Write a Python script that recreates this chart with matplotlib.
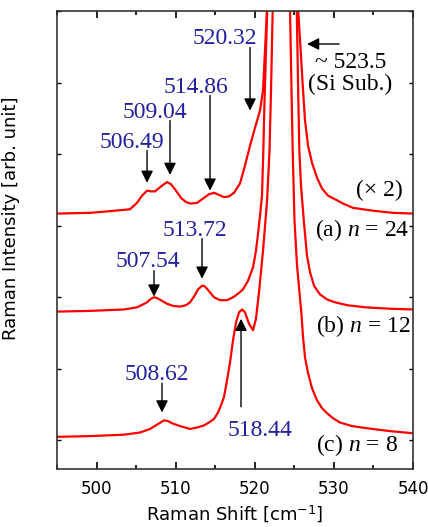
import matplotlib
matplotlib.use("Agg")
import matplotlib.pyplot as plt
from matplotlib.ticker import MultipleLocator, NullFormatter

plt.rcParams['mathtext.fontset'] = 'custom'
plt.rcParams['mathtext.rm'] = 'Liberation Serif'
plt.rcParams['mathtext.it'] = 'Liberation Serif:italic'
plt.rcParams['mathtext.sf'] = 'DejaVu Sans'

# spectra (Raman shift, intensity in tick units)
# peak tops go off the top of the plot, 12 is just "off scale"
shift_a = [495.00, 499.17, 501.32, 504.23, 505.11, 505.74, 506.38, 506.88, 507.39, 508.15,
           508.90, 509.41, 510.04, 510.67, 511.31, 511.94, 512.70, 513.46, 514.21, 514.85,
           515.48, 516.11, 516.74, 517.37, 518.13, 518.76, 519.40, 520.03, 520.66, 521.04,
           521.29, 521.55, 523.50, 525.46, 525.72, 526.10, 526.35, 526.73, 527.23, 527.87,
           528.50, 529.26, 530.14, 531.15, 532.42, 534.94, 537.47, 540.00]
inten_a = [3.17, 3.18, 3.20, 3.23, 3.32, 3.42, 3.49, 3.48, 3.48, 3.55,
           3.61, 3.58, 3.49, 3.39, 3.33, 3.31, 3.32, 3.38, 3.44, 3.46,
           3.43, 3.40, 3.41, 3.46, 3.59, 3.84, 4.12, 4.37, 4.61, 4.89,
           5.45, 6.05, 12.0, 6.05, 5.59, 4.89, 4.47, 4.12, 3.88, 3.67,
           3.52, 3.42, 3.37, 3.31, 3.25, 3.21, 3.18, 3.17]

shift_b = [495.00, 499.17, 503.47, 505.11, 505.87, 506.38, 506.88, 507.26, 507.64, 508.27,
           508.90, 509.66, 510.55, 511.31, 511.81, 512.32, 512.82, 513.33, 513.58, 513.96,
           514.47, 514.85, 515.60, 516.49, 517.25, 517.88, 518.51, 519.14, 519.78, 520.15,
           520.41, 520.66, 520.91, 521.08, 521.23, 521.42, 521.58, 523.50, 525.30, 525.46,
           525.63, 525.84, 526.22, 526.60, 526.98, 527.49, 528.24, 529.13, 530.14, 531.66,
           533.93, 537.09, 540.00]
inten_b = [1.80, 1.81, 1.83, 1.86, 1.90, 1.93, 1.98, 2.00, 1.99, 1.95,
           1.91, 1.88, 1.87, 1.89, 1.93, 2.01, 2.11, 2.16, 2.16, 2.12,
           2.05, 2.00, 1.96, 1.96, 2.00, 2.05, 2.11, 2.23, 2.42, 2.65,
           2.89, 3.14, 3.42, 4.05, 4.75, 5.45, 6.05, 12.0, 6.05, 5.03,
           4.05, 3.56, 3.04, 2.58, 2.35, 2.16, 2.04, 1.97, 1.93, 1.89,
           1.86, 1.84, 1.83]

shift_c = [495.00, 499.17, 503.47, 505.49, 506.76, 507.64, 508.53, 509.03, 509.54, 510.55,
           511.81, 512.70, 513.58, 514.34, 514.85, 515.35, 515.73, 516.11, 516.49, 516.87,
           517.25, 517.63, 518.01, 518.39, 518.76, 519.27, 519.78, 520.15, 520.53, 521.04,
           521.55, 521.86, 522.05, 522.27, 523.50, 524.45, 524.64, 524.79, 525.02, 525.34,
           525.59, 525.91, 526.10, 526.35, 526.73, 527.23, 527.87, 528.50, 529.13, 529.89,
           530.77, 532.29, 534.19, 537.09, 540.00]
inten_c = [0.05, 0.06, 0.08, 0.11, 0.16, 0.22, 0.28, 0.27, 0.24, 0.20,
           0.16, 0.18, 0.21, 0.26, 0.30, 0.39, 0.49, 0.61, 0.84, 1.09,
           1.40, 1.65, 1.79, 1.83, 1.79, 1.63, 1.54, 1.70, 2.07, 2.65,
           3.35, 4.05, 4.89, 6.05, 12.0, 6.05, 4.89, 4.05, 3.07, 2.44,
           2.14, 1.75, 1.44, 1.16, 0.94, 0.73, 0.56, 0.45, 0.38, 0.31,
           0.25, 0.20, 0.17, 0.13, 0.10]

# peak labels: text, arrow start, arrow tip
peak_labels = ['506.49', '509.04', '514.86', '520.32', '507.54', '513.72', '508.62', '518.44']
label_xy = [(504.42, 4.08), (507.39, 4.51), (512.57, 4.85), (516.17, 5.54),
            (506.44, 2.42), (512.44, 2.86), (507.58, 0.84), (520.60, 0.06)]
arrow_from = [(506.38, 4.05), (509.28, 4.47), (514.34, 4.82), (519.40, 5.49),
              (507.26, 2.37), (513.33, 2.82), (508.27, 0.80), (518.26, 0.47)]
arrow_to = [(506.38, 3.60), (509.28, 3.71), (514.34, 3.49), (519.40, 4.61),
            (507.26, 2.01), (513.33, 2.26), (508.27, 0.39), (518.26, 1.70)]

sample_labels = ['(a) $n$ = 24', '(b) $n$ = 12', '(c) $n$ = 8']
sample_xy = [(533.62, 2.86), (533.74, 1.52), (532.86, -0.15)]

fig = plt.figure(figsize=(4.28, 5.27), dpi=100)
ax = fig.add_axes([0.1332, 0.110, 0.8318, 0.869])

for sx, sy in [(shift_a, inten_a), (shift_b, inten_b), (shift_c, inten_c)]:
    ax.plot(sx, sy, color='#ff0000', lw=1.6)

ax.set_xlim(495, 540)
ax.set_ylim(-0.4, 6.0)
ax.xaxis.set_major_locator(MultipleLocator(10))
ax.xaxis.set_minor_locator(MultipleLocator(5))
ax.yaxis.set_major_locator(MultipleLocator(1))
ax.yaxis.set_major_formatter(NullFormatter())
ax.tick_params(axis='x', which='major', direction='in', length=5, width=1.2,
               top=True, labelsize=12, pad=8)
ax.tick_params(axis='x', which='minor', direction='in', length=3, width=1.2, top=True)
ax.tick_params(axis='y', direction='in', length=3, width=1.0, right=True)
for s in ax.spines.values():
    s.set_linewidth(1.2)
    s.set_color('#333333')

ax.set_xlabel(r'Raman Shift [cm$^{\mathsf{-1}}$]', fontsize=13)
ax.xaxis.set_label_coords(0.499, -0.075)
ax.set_ylabel('Raman Intensity [arb. unit]', fontsize=13)
ax.yaxis.set_label_coords(-0.104, 0.548)

blue = '#2020a0'
serif = 'Liberation Serif'
for txt, (tx, ty), a0, a1 in zip(peak_labels, label_xy, arrow_from, arrow_to):
    ax.text(tx, ty, txt, color=blue, fontsize=17, family=serif, ha='center', va='baseline')
    ax.annotate('', xy=a1, xytext=a0,
                arrowprops=dict(arrowstyle='-|>', color='k', lw=1.0,
                                mutation_scale=18, shrinkA=0, shrinkB=0))

# Si substrate
ax.annotate('', xy=(526.60, 5.54), xytext=(530.65, 5.54),
            arrowprops=dict(arrowstyle='-|>', color='k', lw=1.0,
                            mutation_scale=18, shrinkA=0, shrinkB=0))
ax.text(532.16, 5.21, '~ 523.5', fontsize=17, family=serif, ha='center', va='baseline')
ax.text(532.04, 4.89, '(Si Sub.)', fontsize=17, family=serif, ha='center', va='baseline')
ax.text(535.7, 3.42, '(× 2)', fontsize=17, family=serif, ha='center', va='baseline')

for txt, (tx, ty) in zip(sample_labels, sample_xy):
    ax.text(tx, ty, txt, fontsize=17, family=serif, ha='center', va='baseline')

fig.savefig('out.png', dpi=100)
